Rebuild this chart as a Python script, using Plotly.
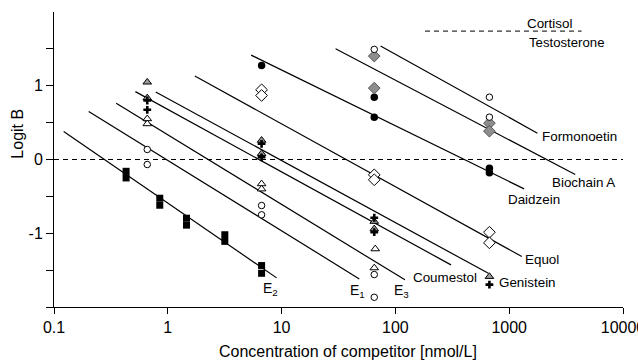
import numpy as np
import plotly.graph_objects as go

# ---- data ----
e2_x = [0.43, 0.43, 0.85, 0.85, 1.46, 1.46, 3.17, 3.17, 6.67, 6.67]
e2_y = [-0.16, -0.25, -0.525, -0.62, -0.796, -0.89, -1.02, -1.11, -1.438, -1.543]

e1_x = [0.66, 0.66, 6.67, 6.67, 65.2, 65.2]
e1_y = [0.136, -0.068, -0.624, -0.75, -1.56, -1.868]

e3_x = [0.66, 0.66, 6.67, 6.67, 66.5, 65.2]
e3_y = [0.552, 0.484, -0.33, -0.40, -1.212, -1.47]

gen_x = [0.66, 0.66, 6.67, 6.67, 65.2, 65.2, 670]
gen_y = [1.049, 0.835, 0.26, 0.08, -0.84, -0.94, -1.587]

cou_x = [0.66, 0.66, 6.67, 6.67, 65.2, 65.2, 670]
cou_y = [0.80, 0.674, 0.213, 0.03, -0.79, -0.986, -1.696]

equ_x = [6.67, 6.67, 65.2, 65.2, 670, 670]
equ_y = [0.945, 0.868, -0.208, -0.275, -0.986, -1.13]

dai_x = [6.67, 65.2, 65.2, 670, 670]
dai_y = [1.275, 0.845, 0.574, -0.12, -0.18]

bio_x = [65.2, 65.2, 670, 670]
bio_y = [1.402, 0.968, 0.493, 0.384]

for_x = [65.2, 670, 670]
for_y = [1.493, 0.845, 0.574]

# regression lines: name, x start, x end, y start, y end
line_names = ["E2", "E1", "E3", "Coumestol", "Genistein", "Equol",
              "Daidzein", "Biochain A", "Formonoetin"]
line_x0 = [0.1216, 0.2018, 0.352, 0.519, 0.783, 1.728, 5.40, 29.8, 74.0]
line_x1 = [9.04, 48.2, 121.3, 308.0, 656.0, 1291.0, 1352.0, 3802.0, 1770.0]
line_y0 = [0.380, 0.651, 0.764, 0.920, 0.916, 1.133, 1.415, 1.502, 1.540]
line_y1 = [-1.605, -1.619, -1.632, -1.429, -1.543, -1.316, -0.398, -0.204, 0.357]

ref_x = [0.1, 10000]       # Cortisol / Testosterone reference (logit 0)
ref_y = [0, 0]
legend_x = [182, 4325]
legend_y = [1.741, 1.741]

tick_vals = [0.1, 1, 10, 100, 1000, 10000]
tick_text = ["0.1", "1", "10", "100", "1000", "10000"]
ytick_vals = [-1, 0, 1]
ytick_text = ["-1", "0", "1"]
yminor_vals = [-2, -1.5, -0.5, 0.5, 1.5]

FONT = "Liberation Sans, Arial, sans-serif"

fig = go.Figure()

# lines
for i in range(len(line_names)):
    fig.add_trace(go.Scatter(x=[line_x0[i], line_x1[i]], y=[line_y0[i], line_y1[i]],
                             mode="lines", line=dict(color="black", width=1.2),
                             showlegend=False, hoverinfo="skip"))

fig.add_trace(go.Scatter(x=ref_x, y=ref_y, mode="lines",
                         line=dict(color="black", width=1, dash="5px,4px"),
                         showlegend=False, hoverinfo="skip"))
fig.add_trace(go.Scatter(x=legend_x, y=legend_y, mode="lines",
                         line=dict(color="black", width=1, dash="5px,4px"),
                         showlegend=False, hoverinfo="skip"))

def pts(x, y, symbol, size, fill, lw=1, lc="black"):
    fig.add_trace(go.Scatter(x=x, y=y, mode="markers",
                             marker=dict(symbol=symbol, size=size, color=fill,
                                         line=dict(color=lc, width=lw)),
                             showlegend=False))

pts(e2_x, e2_y, "square", 7, "black", 0)
pts(e1_x, e1_y, "circle", 6.5, "white", 1)
pts(e3_x, e3_y, "triangle-up", 7.5, "white", 1)
pts(gen_x, gen_y, "triangle-up", 7.5, "#9a9a9a", 1)
pts(cou_x, cou_y, "cross", 6.5, "black", 0)
pts(equ_x, equ_y, "diamond", 9, "white", 1)
pts(dai_x, dai_y, "circle", 7.5, "black", 0)
pts(bio_x, bio_y, "diamond", 9, "#8e8e8e", 1, "#555555")
pts(for_x, for_y, "circle", 6.5, "white", 1)

def px2x(px):
    return -1 + (px - 54.3) / 113.7

def px2y(py):
    return (159 - py) / 73.7

labels = [
    ("Formonoetin", 541, 135.7, 13.4),
    ("Biochain A", 550.5, 181.7, 13.4),
    ("Daidzein", 506.5, 199.3, 13.4),
    ("Equol", 524, 259.3, 13.4),
    ("Genistein", 498, 282.3, 13.4),
    ("Coumestol", 412, 276.7, 13.4),
    ("E<sub>3</sub>", 393, 290, 14),
    ("E<sub>2</sub>", 262.5, 288.5, 14),
    ("E<sub>1</sub>", 349.5, 290, 14),
    ("Cortisol", 526, 22.7, 13.4),
    ("Testosterone", 527.5, 41.7, 13.2),
]
anns = []
for t, px, py, fs in labels:
    anns.append(dict(text=t, x=px2x(px), y=px2y(py), xref="x", yref="y",
                     xanchor="left", yanchor="middle", showarrow=False,
                     borderpad=0, font=dict(family=FONT, size=fs, color="black")))

anns.append(dict(text="Concentration of competitor [nmol/L]", x=(348 - 54.3) / 568.7,
                 y=(307 - 351.5) / 295.3, xref="paper", yref="paper",
                 xanchor="center", yanchor="middle", showarrow=False,
                 font=dict(family=FONT, size=16, color="black")))
anns.append(dict(text="Logit B", x=(18.3 - 54.3) / 568.7, y=(307 - 133.5) / 295.3,
                 xref="paper", yref="paper", textangle=-90,
                 xanchor="center", yanchor="middle", showarrow=False,
                 font=dict(family=FONT, size=16, color="black")))

fig.update_layout(
    width=638, height=363,
    margin=dict(l=54, r=15, t=12, b=56, autoexpand=False),
    paper_bgcolor="white", plot_bgcolor="white",
    font=dict(family=FONT, size=16, color="black"),
    annotations=anns,
    xaxis=dict(type="log", range=[-1, 4], tickvals=tick_vals, ticktext=tick_text,
               ticks="outside", ticklen=6, tickwidth=1, tickcolor="black",
               ticklabeloverflow="allow",
               showline=True, linecolor="black", linewidth=1, showgrid=False,
               zeroline=False, tickfont=dict(family=FONT, size=16)),
    yaxis=dict(range=[-2, 2], tickvals=ytick_vals, ticktext=ytick_text,
               ticks="outside", ticklen=7, tickwidth=1, tickcolor="black",
               minor=dict(tickvals=yminor_vals, ticks="outside", ticklen=7,
                          tickwidth=1, tickcolor="black", showgrid=False),
               showline=True, linecolor="black", linewidth=1, showgrid=False,
               zeroline=False, tickfont=dict(family=FONT, size=16)),
)

fig.write_html("out.html", config={"displayModeBar": False},
               post_script="document.body.style.margin='0';document.body.style.padding='0';")
